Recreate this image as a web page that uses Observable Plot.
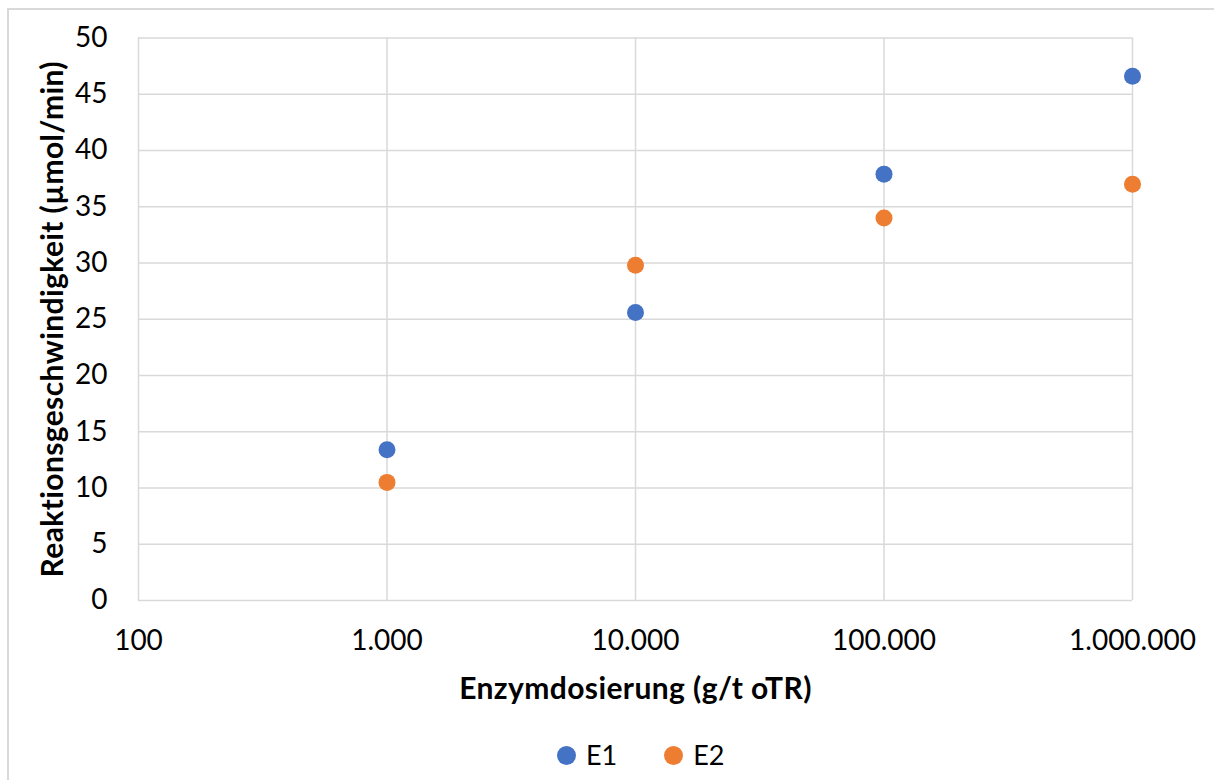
<!DOCTYPE html>
<html>
<head>
<meta charset="utf-8">
<script src="https://cdn.jsdelivr.net/npm/d3@7"></script>
<script src="https://cdn.jsdelivr.net/npm/@observablehq/plot@0.6"></script>
<style>
  html, body { margin: 0; padding: 0; background: #fff; overflow: hidden; }
  #wrap { position: relative; width: 1214px; height: 780px; font-family: Lato, "Open Sans", sans-serif; }
  #frame { position: absolute; left: 7px; top: 8px; width: 1400px; height: 900px; border: 2px solid #d9d9d9; box-sizing: border-box; }
  #chart { position: absolute; left: 0; top: 0; }
  #legend { position: absolute; left: 557px; top: 740px; display: flex; align-items: center; gap: 47px; font-size: 27px; line-height: 30px; color: #000; }
  #legend .item { display: flex; align-items: center; gap: 10px; }
  #legend .sw { width: 19px; height: 19px; border-radius: 50%; display: inline-block; }
</style>
</head>
<body>
<div id="wrap">
  <div id="frame"></div>
  <div id="chart"></div>
  <div id="legend"></div>
</div>
<script>
// Enzyme dosage (g/t oTR) and reaction rate (µmol/min) for two enzymes
const dosages = [1000, 10000, 100000, 1000000];
const e1 = [13.4, 25.6, 37.9, 46.6];
const e2 = [10.5, 29.8, 34.0, 37.0];
const seriesNames = ["E1", "E2"];
const seriesColors = ["#4472C4", "#ED7D31"];
const xTicks = [100, 1000, 10000, 100000, 1000000];
const yTicks = [0, 5, 10, 15, 20, 25, 30, 35, 40, 45, 50];

const rows = [
  ...dosages.map((d, i) => ({dose: d, rate: e1[i], series: seriesNames[0]})),
  ...dosages.map((d, i) => ({dose: d, rate: e2[i], series: seriesNames[1]}))
];

// German number format: dot as thousands separator
const de = d3.formatLocale({decimal: ",", thousands: ".", grouping: [3], currency: ["", " €"]});
const fmt = de.format(",d");

const chart = Plot.plot({
  width: 1214,
  height: 720,
  marginLeft: 138,
  marginRight: 82,
  marginTop: 37.5,
  marginBottom: 120,
  style: {fontFamily: "Lato, 'Open Sans', sans-serif", fontSize: "28px", color: "#000", background: "transparent"},
  x: {type: "log", domain: [100, 1000000]},
  y: {domain: [0, 50]},
  color: {domain: seriesNames, range: seriesColors},
  marks: [
    Plot.gridX(xTicks, {stroke: "#d9d9d9", strokeOpacity: 1, strokeWidth: 1.5}),
    Plot.gridY(yTicks, {stroke: "#d9d9d9", strokeOpacity: 1, strokeWidth: 1.5}),
    Plot.axisX(xTicks, {
      tickSize: 0, tickPadding: 30, tickFormat: fmt,
      label: "Enzymdosierung (g/t oTR)", labelAnchor: "center", labelArrow: "none", labelOffset: 98
    }),
    Plot.axisY(yTicks, {
      tickSize: 0, tickPadding: 31,
      label: "Reaktionsgeschwindigkeit (µmol/min)", labelAnchor: "center", labelArrow: "none", labelOffset: 97
    }),
    Plot.dot(rows, {x: "dose", y: "rate", fill: "series", r: 8.5})
  ]
});

// Bold axis titles
chart.querySelectorAll("[aria-label='x-axis label'] text, [aria-label='y-axis label'] text").forEach(t => {
  t.setAttribute("font-weight", "bold");
  t.setAttribute("font-size", "30px");
  t.setAttribute("letter-spacing", "0.4px");
});
document.getElementById("chart").appendChild(chart);

// Legend below the chart
const legend = document.getElementById("legend");
seriesNames.forEach((name, i) => {
  const item = document.createElement("div");
  item.className = "item";
  const sw = document.createElement("span");
  sw.className = "sw";
  sw.style.background = seriesColors[i];
  const label = document.createElement("span");
  label.textContent = name;
  item.append(sw, label);
  legend.appendChild(item);
});
</script>
</body>
</html>
